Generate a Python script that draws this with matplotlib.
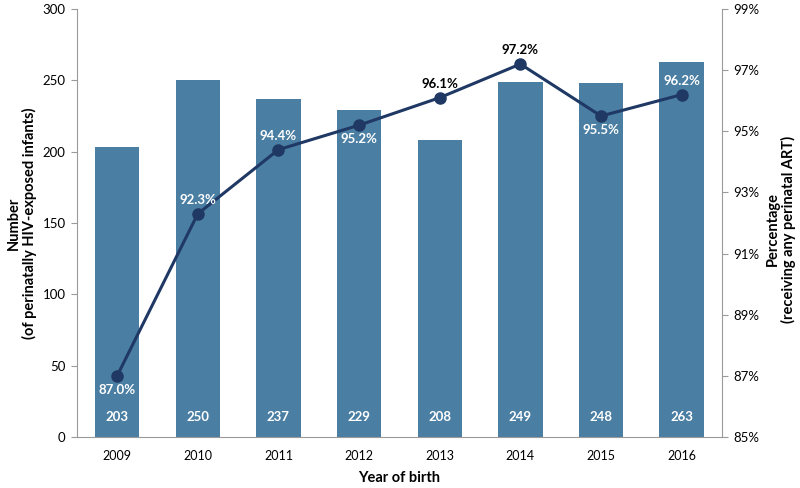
import numpy as np
import matplotlib.pyplot as plt
from matplotlib.ticker import FuncFormatter

plt.rcParams['font.family'] = ['Lato', 'DejaVu Sans']

years = ['2009', '2010', '2011', '2012', '2013', '2014', '2015', '2016']
counts = [203, 250, 237, 229, 208, 249, 248, 263]
pct = [87.0, 92.3, 94.4, 95.2, 96.1, 97.2, 95.5, 96.2]
# where each percentage label sits and its colour
pos = ['below', 'above', 'above', 'below', 'above', 'above', 'below', 'above']
lab_col = ['white', 'white', 'white', 'white', 'black', 'black', 'white', 'white']

bar_color = '#4a7ea3'
line_color = '#1f3864'
spine_color = '#9a9a9a'

fig = plt.figure(figsize=(8, 4.88), dpi=100)
ax = fig.add_axes([0.096, 0.1045, 0.8065, 0.877])
x = np.arange(len(years))
ax.bar(x, counts, width=0.55, color=bar_color, zorder=2)
for xi, c in zip(x, counts):
    ax.text(xi, 14, str(c), ha='center', va='center', color='white',
            fontsize=9.5, fontweight='bold', zorder=3)

ax.set_xlim(-0.5, len(years) - 0.5)
ax.set_ylim(0, 300)
ax.set_yticks(range(0, 301, 50))
ax.set_xticks(x)
ax.set_xticklabels(years)
ax.tick_params(axis='x', length=0, pad=9, labelsize=9)
ax.tick_params(axis='y', length=4, color=spine_color, labelsize=9.5, pad=4)
for s in ['top', 'right']:
    ax.spines[s].set_visible(False)
for s in ['left', 'bottom']:
    ax.spines[s].set_color(spine_color)
ax.set_xlabel('Year of birth', fontsize=10.5, fontweight='bold', labelpad=7)

ax2 = ax.twinx()
ax2.plot(x, pct, color=line_color, lw=2.2, marker='o', ms=8, zorder=4)
ax2.set_ylim(85, 99)
ax2.set_yticks(range(85, 100, 2))
ax2.yaxis.set_major_formatter(FuncFormatter(lambda v, p: '%d%%' % v))
ax2.tick_params(axis='y', length=4, color=spine_color, labelsize=9.5, pad=4)
for s in ['top', 'left', 'bottom']:
    ax2.spines[s].set_visible(False)
ax2.spines['right'].set_color(spine_color)

for xi, p, ps, lc in zip(x, pct, pos, lab_col):
    off = 10 if ps == 'above' else -10
    ax2.annotate('%.1f%%' % p, (xi, p), xytext=(0, off), textcoords='offset points',
                 ha='center', va='center', color=lc, fontsize=9.5,
                 fontweight='bold', zorder=5)

fig.text(0.027, 0.543, 'Number\n(of perinatally HIV-exposed infants)',
         rotation=90, ha='center', va='center', fontsize=10.5,
         fontweight='bold', linespacing=1.1)
fig.text(0.976, 0.53, 'Percentage\n(receiving any perinatal ART)',
         rotation=90, ha='center', va='center', fontsize=10.5,
         fontweight='bold', linespacing=1.1)

fig.savefig('out.png', dpi=100)
